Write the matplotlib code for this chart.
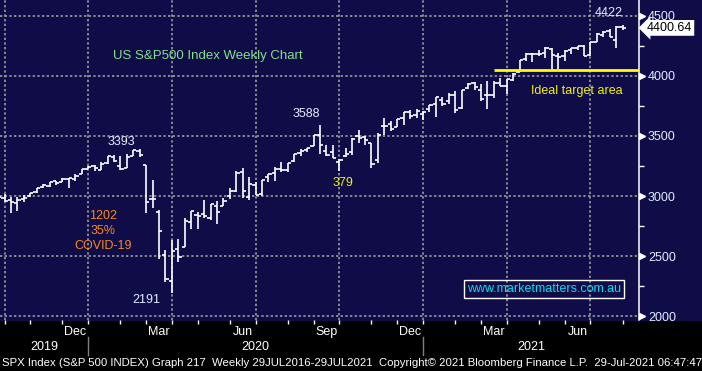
import numpy as np
import pandas as pd
import matplotlib
matplotlib.use("Agg")
import matplotlib.pyplot as plt
from matplotlib import font_manager
from matplotlib.patches import Rectangle

installed = {f.name for f in font_manager.fontManager.ttflist}
sans = [f for f in ["Liberation Sans", "Arimo", "Arial", "Roboto"] if f in installed]
plt.rcParams['font.family'] = sans + ['DejaVu Sans']

# weekly SPX bars (week ending Friday)
weeks = pd.date_range("2019-09-20", periods=98, freq="W-FRI")
opens = [3008, 2985, 2967, 2944, 2971, 2996, 3036, 3078, 3087, 3123,
         3117, 3143, 3141, 3183, 3226, 3247, 3218, 3273, 3321, 3248,
         3236, 3335, 3378, 3257, 2975, 2864, 2509, 2290, 2555, 2579,
         2782, 2845, 2854, 2816, 2915, 2914, 3004, 3039, 3199, 2994,
         3094, 3018, 3155, 3188, 3225, 3219, 3289, 3356, 3382, 3418,
         3508, 3371, 3363, 3285, 3334, 3368, 3500, 3493, 3441, 3296,
         3583, 3600, 3579, 3654, 3699, 3676, 3685, 3723, 3764, 3803,
         3788, 3842, 3732, 3899, 3939, 3886, 3843, 3844, 3943, 3917,
         3969, 4034, 4138, 4183, 4185, 4192, 4228, 4170, 4168, 4217,
         4230, 4248, 4174, 4285, 4343, 4373, 4296, 4410]
highs = [3022, 3016, 2993, 2993, 3008, 3027, 3066, 3098, 3120, 3127,
         3154, 3150, 3183, 3226, 3247, 3259, 3282, 3330, 3338, 3333,
         3348, 3385, 3394, 3260, 3137, 2883, 2553, 2637, 2641, 2818,
         2879, 2870, 2965, 2933, 2955, 2980, 3068, 3212, 3233, 3155,
         3120, 3130, 3185, 3238, 3280, 3273, 3352, 3388, 3399, 3509,
         3588, 3425, 3429, 3306, 3398, 3482, 3550, 3502, 3441, 3521,
         3646, 3629, 3644, 3701, 3713, 3726, 3711, 3760, 3827, 3823,
         3860, 3871, 3887, 3938, 3951, 3929, 3955, 3960, 3983, 3978,
         4021, 4129, 4191, 4195, 4218, 4238, 4237, 4188, 4219, 4234,
         4250, 4257, 4286, 4356, 4372, 4393, 4415, 4422]
lows = [2993, 2946, 2856, 2875, 2953, 2992, 3023, 3066, 3075, 3091,
        3115, 3070, 3125, 3180, 3223, 3212, 3215, 3264, 3281, 3214,
        3236, 3333, 3327, 2856, 2902, 2479, 2280, 2192, 2447, 2579,
        2728, 2728, 2817, 2798, 2767, 2914, 2977, 3032, 2984, 2965,
        3005, 2999, 3116, 3127, 3201, 3204, 3284, 3331, 3367, 3418,
        3350, 3330, 3313, 3209, 3324, 3343, 3441, 3425, 3234, 3279,
        3512, 3543, 3579, 3595, 3645, 3648, 3636, 3703, 3662, 3754,
        3768, 3694, 3726, 3891, 3884, 3789, 3723, 3819, 3914, 3853,
        3955, 4034, 4125, 4118, 4170, 4148, 4056, 4062, 4128, 4180,
        4220, 4165, 4165, 4280, 4321, 4322, 4233, 4385]
closes = [2992, 2962, 2952, 2970, 2986, 3023, 3067, 3093, 3120, 3110,
          3141, 3146, 3169, 3221, 3240, 3235, 3265, 3330, 3295, 3226,
          3328, 3380, 3338, 2954, 2972, 2711, 2305, 2541, 2489, 2790,
          2875, 2837, 2831, 2930, 2864, 2955, 3044, 3194, 3041, 3098,
          3009, 3130, 3185, 3225, 3216, 3271, 3351, 3373, 3397, 3508,
          3427, 3341, 3319, 3298, 3348, 3477, 3484, 3465, 3270, 3509,
          3585, 3558, 3638, 3699, 3663, 3709, 3703, 3756, 3825, 3768,
          3841, 3714, 3887, 3935, 3907, 3811, 3842, 3943, 3913, 3975,
          4020, 4129, 4185, 4180, 4181, 4233, 4174, 4156, 4204, 4230,
          4247, 4166, 4281, 4352, 4370, 4327, 4412, 4401]
last_price = 4400.64
target_level = 4050
target_from = pd.Timestamp("2021-03-12")

navy = "#0f0c48"
label_col = "#e4ecff"

fig = plt.figure(figsize=(7.02, 3.71), dpi=100, facecolor="black")
fig.patches.append(Rectangle((0, 0.1375), 1, 0.8625, transform=fig.transFigure,
                             color=navy, zorder=-10))
ax = fig.add_axes([0, 0.1375, 0.9098, 0.8625], facecolor=navy)

x = np.arange(len(weeks))

# gridlines / ticks sit on the last bar before each month starts
months = pd.date_range("2019-10-01", "2021-08-01", freq="MS")
month_pos = np.searchsorted(weeks, months) - 1
quarter_pos = [p for m, p in zip(months, month_pos) if m.month in (1, 4, 7, 10)]

for p in quarter_pos:
    ax.axvline(p, color="#9c9c9c", lw=1.2, ls=(0, (1.4, 1.4)), zorder=1)
for v in range(2000, 4501, 500):
    ax.axhline(v, color="#9c9c9c", lw=1.2, ls=(0, (1.4, 1.4)), zorder=1)

# OHLC bars
ax.vlines(x, lows, highs, color="white", lw=1.2, zorder=3)
ax.hlines(opens, x - 0.5, x, color="white", lw=1.2, zorder=3)
ax.hlines(closes, x, x + 0.5, color="white", lw=1.2, zorder=3)

ax.set_xlim(0.3, 99.5)
ax.set_ylim(1967, 4633)

# target line
ax.hlines(target_level, weeks.get_loc(target_from), 99.5, color="#ffff00", lw=2, zorder=4)

# right axis
ax.yaxis.tick_right()
ax.set_yticks(range(2000, 4501, 500))
ax.set_yticks(range(2250, 4500, 500), minor=True)
ax.tick_params(axis="y", which="major", length=0, pad=6.7, labelsize=9, labelcolor=label_col)
ax.tick_params(axis="y", which="minor", length=3.5, width=1, color="white", direction="out")
ax.plot(np.full(6, 1.0047), range(2000, 4501, 500), ls="none", marker=">", ms=5,
        color="white", transform=ax.get_yaxis_transform(), clip_on=False, zorder=5)

# bottom axis
ax.set_xticks(month_pos)
ax.set_xticklabels([])
ax.tick_params(axis="x", length=3, width=1, color="white", direction="out")

for s in ["top", "left", "bottom"]:
    ax.spines[s].set_visible(False)
ax.spines["right"].set_color("white")
ax.spines["right"].set_linewidth(1.1)

xt = ax.get_xaxis_transform()
bounds = list(month_pos) + [99.5]
for i, m in enumerate(months[:-1]):
    if m.month in (12, 3, 6, 9):
        ax.text((bounds[i] + bounds[i + 1]) / 2, -0.0375, m.strftime("%b"), transform=xt,
                ha="center", va="center", fontsize=9, color="white")

jan_pos = [p for m, p in zip(months, month_pos) if m.month == 1]
year_edges = [0.3] + jan_pos + [99.5]
for i, yr in enumerate(["2019", "2020", "2021"]):
    ax.text((year_edges[i] + year_edges[i + 1]) / 2, -0.085, yr, transform=xt,
            ha="center", va="center", fontsize=9, color="white")
for p in jan_pos:
    ax.plot([p, p], [-0.053, -0.11], color="#808080", lw=1, transform=xt, clip_on=False)

# last price flag
ax.text(1.013, last_price, f"{last_price:.2f}", transform=ax.get_yaxis_transform(),
        ha="left", va="center", fontsize=9, color="black", zorder=6,
        bbox=dict(boxstyle="larrow,pad=0.15", fc="white", ec="none"))

# annotations
ax.text(0.3257, 0.825, "US S&P500 Index Weekly Chart", transform=ax.transAxes,
        ha="center", va="center", fontsize=9.5, color="#86e08c")
ax.text(19.1, 3450, "3393", ha="center", va="center", fontsize=9, color=label_col)
ax.text(47.8, 3683, "3588", ha="center", va="center", fontsize=9, color=label_col)
ax.text(94.9, 4525, "4422", ha="center", va="center", fontsize=9, color=label_col)
ax.text(23.0, 2133, "2191", ha="center", va="center", fontsize=9, color=label_col)
ax.text(53.6, 3108, "379", ha="center", va="center", fontsize=9, color="#f2f200")
ax.text(16.3, 2710, "1202\n35%\nCOVID-19", ha="center", va="center", fontsize=9,
        color="#f5891f", linespacing=1.35)
ax.text(89.9, 3875, "Ideal target area", ha="center", va="center", fontsize=9, color="#f2f200")
ax.text(0.8517, 0.0969, "www.marketmatters.com.au", transform=ax.transAxes,
        ha="center", va="center", fontsize=9, color="#00e0f0",
        bbox=dict(boxstyle="square,pad=0.25", fc="none", ec="white", lw=1))

fig.text(2 / 702, 1 - 363 / 371,
         "SPX Index (S&P 500 INDEX) Graph 217  Weekly 29JUL2016-29JUL2021  "
         "Copyright\u00a9 2021 Bloomberg Finance L.P.  29-Jul-2021 06:47:47",
         ha="left", va="center", fontsize=8.2, color="white")

fig.savefig("out.png", dpi=100, facecolor=fig.get_facecolor())
